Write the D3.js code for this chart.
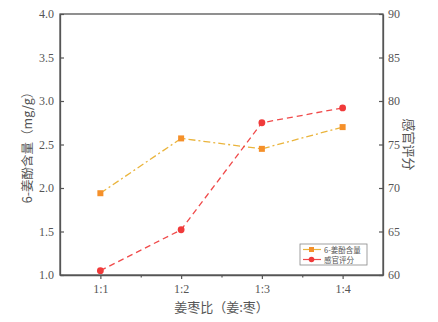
<!DOCTYPE html>
<html>
<head>
<meta charset="utf-8">
<script src="https://cdn.jsdelivr.net/npm/d3@7"></script>
<style>
  html, body { margin: 0; padding: 0; background: #fff; }
  svg { display: block; }
</style>
</head>
<body>
<svg id="chart" width="438" height="322"></svg>
<script>
// Ginger : jujube ratio categories
const categories = ["1:1", "1:2", "1:3", "1:4"];
// 6-gingerol content (mg/g), left axis
const gingerol = [1.94, 2.57, 2.45, 2.70];
// Sensory score, right axis
const sensory = [60.5, 65.2, 77.5, 79.2];
const leftTicks = [1.0, 1.5, 2.0, 2.5, 3.0, 3.5, 4.0];
const rightTicks = [60, 65, 70, 75, 80, 85, 90];

const svg = d3.select("#chart");
const m = { left: 60, right: 383, top: 14, bottom: 275 };
const axisColor = "#555";
const textColor = "#555";
const numFont = "'Liberation Serif', 'DejaVu Serif', serif";
const cjkFont = "'Noto Sans CJK SC', sans-serif";

const x = d3.scaleLinear().domain([0.5, 4.5]).range([m.left, m.right]);
const yL = d3.scaleLinear().domain([1, 4]).range([m.bottom, m.top]);
const yR = d3.scaleLinear().domain([60, 90]).range([m.bottom, m.top]);

// Frame
svg.append("rect")
  .attr("x", m.left).attr("y", m.top)
  .attr("width", m.right - m.left).attr("height", m.bottom - m.top)
  .attr("fill", "none").attr("stroke", axisColor).attr("stroke-width", 1.3);

// Left axis (inward ticks)
svg.append("g").attr("transform", `translate(${m.left},0)`)
  .call(d3.axisLeft(yL).tickValues(leftTicks).tickSizeInner(-4).tickSizeOuter(0)
    .tickPadding(6).tickFormat(d3.format(".1f")));
// Right axis (inward ticks)
svg.append("g").attr("transform", `translate(${m.right},0)`)
  .call(d3.axisRight(yR).tickValues(rightTicks).tickSizeInner(-4).tickSizeOuter(0)
    .tickPadding(5));
// Bottom axis (outward ticks, minor ticks between categories)
svg.append("g").attr("transform", `translate(0,${m.bottom})`)
  .call(d3.axisBottom(x).tickValues([1, 2, 3, 4]).tickSizeInner(4).tickSizeOuter(0)
    .tickPadding(5).tickFormat((d, i) => categories[i]));
svg.append("g").attr("transform", `translate(0,${m.bottom})`)
  .call(d3.axisBottom(x).tickValues([1.5, 2.5, 3.5]).tickSize(2.5).tickFormat(""))
  .call(g => g.select(".domain").remove());

svg.selectAll(".domain").attr("stroke", axisColor).attr("stroke-width", 1.3);
svg.selectAll(".tick line").attr("stroke", axisColor).attr("stroke-width", 1.2);
svg.selectAll(".tick text")
  .attr("fill", textColor).attr("font-family", numFont).attr("font-size", 12);

// Axis titles
svg.append("text")
  .attr("transform", `translate(32,${(m.top + m.bottom) / 2}) rotate(-90)`)
  .attr("text-anchor", "middle").attr("fill", textColor)
  .attr("font-family", cjkFont).attr("font-size", 12.5)
  .text("6-姜酚含量（mg/g）");
svg.append("text")
  .attr("transform", `translate(404,${(m.top + m.bottom) / 2}) rotate(90)`)
  .attr("text-anchor", "middle").attr("fill", textColor)
  .attr("font-family", cjkFont).attr("font-size", 13)
  .text("感官评分");
svg.append("text")
  .attr("x", (m.left + m.right) / 2).attr("y", 312)
  .attr("text-anchor", "middle").attr("fill", textColor)
  .attr("font-family", cjkFont).attr("font-size", 13)
  .text("姜枣比（姜:枣）");

const orangeLine = "#EAB43C", orangeMark = "#F5902A";
const redLine = "#F04A4A", redMark = "#F03A3A";

// 6-gingerol series: dash-dot line with square markers
svg.append("path")
  .datum(gingerol)
  .attr("fill", "none").attr("stroke", orangeLine).attr("stroke-width", 1.3)
  .attr("stroke-dasharray", "7,3,2,3")
  .attr("d", d3.line().x((d, i) => x(i + 1)).y(d => yL(d)));
svg.selectAll(".sq").data(gingerol).enter().append("rect")
  .attr("x", (d, i) => x(i + 1) - 3).attr("y", d => yL(d) - 3)
  .attr("width", 6).attr("height", 6).attr("fill", orangeMark);

// Sensory series: dashed line with circle markers
svg.append("path")
  .datum(sensory)
  .attr("fill", "none").attr("stroke", redLine).attr("stroke-width", 1.3)
  .attr("stroke-dasharray", "6,4")
  .attr("d", d3.line().x((d, i) => x(i + 1)).y(d => yR(d)));
svg.selectAll(".dot").data(sensory).enter().append("circle")
  .attr("cx", (d, i) => x(i + 1)).attr("cy", d => yR(d))
  .attr("r", 3.4).attr("fill", redMark);

// Legend
const lg = svg.append("g").attr("transform", "translate(300,244)");
lg.append("rect").attr("width", 67).attr("height", 21)
  .attr("fill", "#fff").attr("stroke", "#888").attr("stroke-width", 0.8);
const items = [
  { name: "6-姜酚含量", line: orangeLine, mark: orangeMark, shape: "sq" },
  { name: "感官评分", line: redLine, mark: redMark, shape: "dot" }
];
items.forEach((it, i) => {
  const yy = 5.5 + i * 10;
  lg.append("line").attr("x1", 3).attr("x2", 21).attr("y1", yy).attr("y2", yy)
    .attr("stroke", it.line).attr("stroke-width", 1.2);
  if (it.shape === "sq") {
    lg.append("rect").attr("x", 9).attr("y", yy - 2.5).attr("width", 5).attr("height", 5)
      .attr("fill", it.mark);
  } else {
    lg.append("circle").attr("cx", 11.5).attr("cy", yy).attr("r", 2.8).attr("fill", it.mark);
  }
  lg.append("text").attr("x", 24).attr("y", yy + 3)
    .attr("font-family", cjkFont).attr("font-size", 7.5).attr("fill", textColor)
    .text(it.name);
});
</script>
</body>
</html>
